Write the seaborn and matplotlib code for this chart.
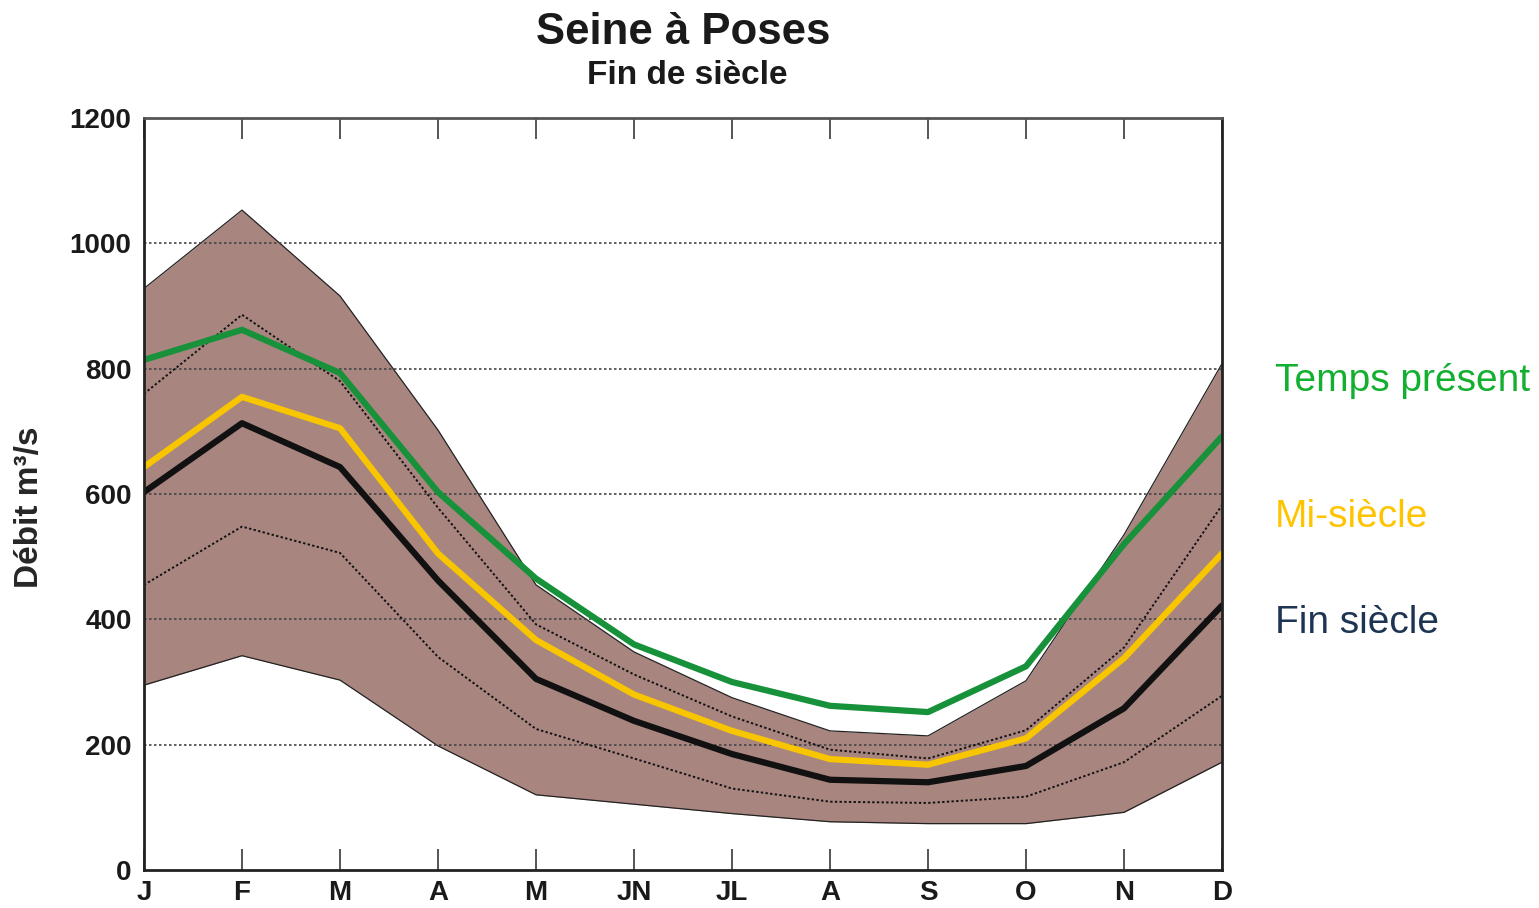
import matplotlib
matplotlib.use("Agg")
import matplotlib.pyplot as plt
from matplotlib import font_manager
import seaborn as sns
import pandas as pd
import numpy as np

# ---------------- data ----------------
months = ["J", "F", "M", "A", "M", "JN", "JL", "A", "S", "O", "N", "D"]
band_top = [928, 1053, 916, 702, 455, 348, 275, 222, 214, 302, 535, 808]
band_bottom = [295, 342, 303, 198, 120, 105, 90, 77, 74, 74, 92, 172]
upper_dotted = [760, 886, 780, 578, 392, 312, 245, 192, 178, 223, 355, 582]
lower_dotted = [455, 548, 506, 340, 225, 178, 130, 109, 107, 117, 172, 278]
temps_present = [814, 862, 793, 603, 465, 360, 300, 262, 252, 325, 520, 692]
mi_siecle = [643, 755, 705, 505, 367, 280, 222, 177, 168, 210, 338, 505]
fin_siecle = [603, 713, 643, 462, 305, 238, 185, 144, 140, 166, 258, 422]
y_ticks = [0, 200, 400, 600, 800, 1000, 1200]

# ---------------- style ----------------
sns.set_theme(style="white")
plt.rcParams['font.family'] = ['Liberation Sans', 'DejaVu Sans']

def has_font(name):
    try:
        font_manager.findfont(font_manager.FontProperties(family=name), fallback_to_default=False)
        return True
    except Exception:
        return False

narrow = has_font('Liberation Sans Narrow')
side_family = ['Liberation Sans Narrow', 'Liberation Sans', 'DejaVu Sans'] if narrow else ['Liberation Sans', 'DejaVu Sans']
side_size = 34 if narrow else 28

fig = plt.figure(figsize=(15.39, 9.08), dpi=100)
ax = fig.add_axes([144/1539, 1-870/908, (1222-144)/1539, (870-118)/908])

x = np.arange(len(months))
df = pd.DataFrame({
    "x": x, "top": band_top, "bottom": band_bottom,
    "ud": upper_dotted, "ld": lower_dotted,
    "tp": temps_present, "ms": mi_siecle, "fs": fin_siecle,
})

band_color = "#a98580"
ax.fill_between(df["x"], df["bottom"], df["top"], color=band_color, lw=0, zorder=1)
sns.lineplot(data=df, x="x", y="top", ax=ax, color="#222222", lw=0.9, zorder=2)
sns.lineplot(data=df, x="x", y="bottom", ax=ax, color="#222222", lw=0.9, zorder=2)

# grid
for v in [200, 400, 600, 800, 1000]:
    ax.axhline(v, color="#444444", lw=1.2, ls=(0, (1.5, 1.5)), zorder=2.5)

sns.lineplot(data=df, x="x", y="ud", ax=ax, color="#111111", lw=1.4, ls=(0, (1.2, 1.2)), zorder=3)
sns.lineplot(data=df, x="x", y="ld", ax=ax, color="#111111", lw=1.4, ls=(0, (1.2, 1.2)), zorder=3)

sns.lineplot(data=df, x="x", y="tp", ax=ax, color="#17913a", lw=4.5, zorder=4)
sns.lineplot(data=df, x="x", y="ms", ax=ax, color="#f7c600", lw=4.5, zorder=4)
sns.lineplot(data=df, x="x", y="fs", ax=ax, color="#111111", lw=4.5, zorder=5)

ax.set_xlim(0, 11)
ax.set_ylim(0, 1200)
ax.set_xticks(x)
ax.set_xticklabels(months, fontsize=20, fontweight="bold")
ax.set_yticks(y_ticks)
ax.set_yticklabels([str(v) for v in y_ticks], fontsize=20, fontweight="bold")
ax.set_xlabel("")
ax.set_ylabel("Débit m³/s", fontsize=24, fontweight="bold")
ax.yaxis.set_label_coords(-0.092, 0.483)

ax.tick_params(axis="x", which="both", direction="in", length=15, width=1.4,
               color="#555555", top=True, bottom=True, pad=7, labelcolor="#1a1a1a")
ax.tick_params(axis="y", which="both", length=0, pad=9, labelcolor="#1a1a1a")

for s in ["left", "bottom", "right"]:
    ax.spines[s].set_color("#222222")
    ax.spines[s].set_linewidth(2)
ax.spines["top"].set_color("#555555")
ax.spines["top"].set_linewidth(2)
for s in ax.spines.values():
    s.set_zorder(6)

# titles
fig.text(683/1539, 1-32/908, "Seine à Poses", ha="center", va="center",
         fontsize=31.5, fontweight="bold", color="#1a1a1a")
fig.text(687/1539, 1-75/908, "Fin de siècle", ha="center", va="center",
         fontsize=24, fontweight="bold", color="#1a1a1a")

# side labels
fig.text(1275/1539, 1-381/908, "Temps présent", ha="left", va="center",
         fontsize=side_size, color="#13b030", family=side_family)
fig.text(1275/1539, 1-517/908, "Mi-siècle", ha="left", va="center",
         fontsize=side_size, color="#ffc400", family=side_family)
fig.text(1275/1539, 1-623/908, "Fin siècle", ha="left", va="center",
         fontsize=side_size, color="#1d3553", family=side_family)

fig.savefig("out.png", dpi=100)
